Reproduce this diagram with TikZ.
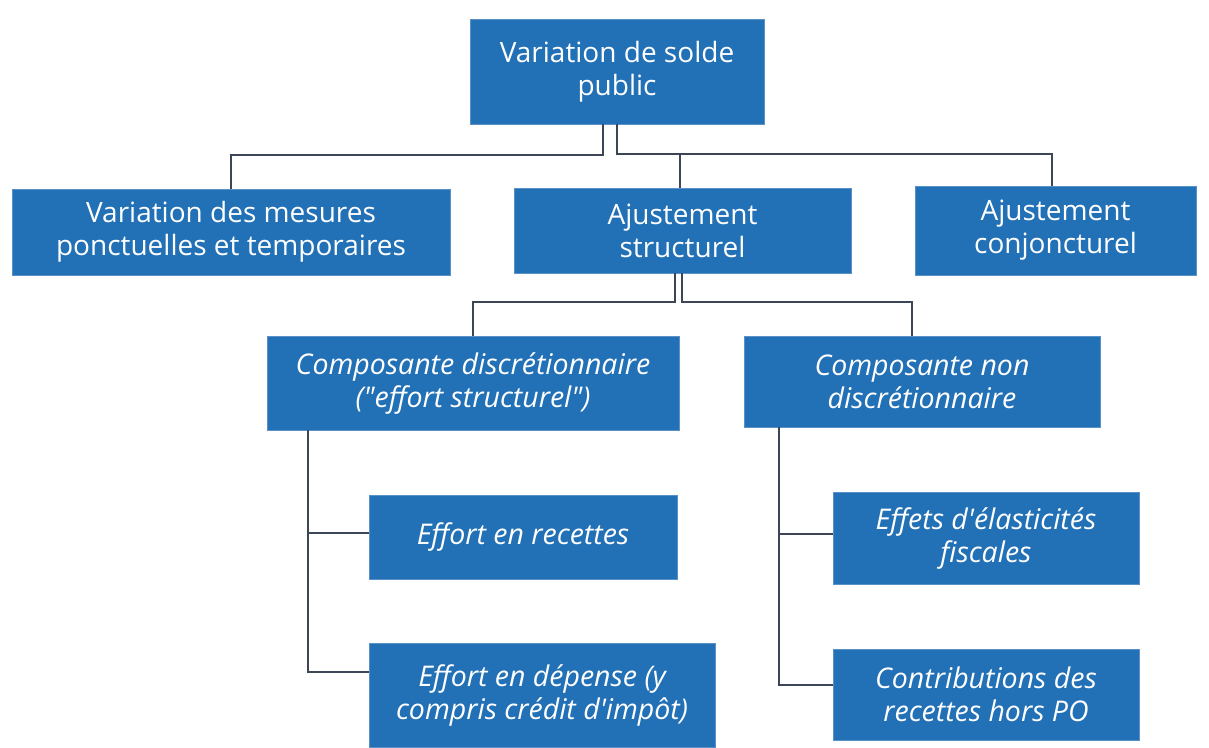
\documentclass[tikz,border=0pt]{standalone}
\usepackage{fontspec}
\setmainfont{Open Sans}[Ligatures=TeXOff]
\definecolor{boxblue}{HTML}{2270B5}
\definecolor{boxedge}{HTML}{5A92C8}
\definecolor{linecol}{HTML}{3D4656}
\tikzset{
  box/.style={rectangle, fill=boxblue, draw=boxedge, line width=0.8pt, text=white,
    align=center, inner sep=0pt, font=\fontsize{28}{33}\selectfont},
  ibox/.style={box, font=\fontsize{28.5}{33}\selectfont\itshape},
  conn/.style={draw=linecol, line width=2.5pt}
}
\begin{document}
\begin{tikzpicture}[x=1pt,y=-1pt]
\useasboundingbox (0,0) rectangle (1209,747);
\node[box, minimum width=294, minimum height=105] (top) at (617,71.5) {Variation de solde\\public};
\node[box, minimum width=438, minimum height=86] (b1) at (231,232) {Variation des mesures\\ponctuelles et temporaires};
\node[box, minimum width=337, minimum height=85] (b2) at (682.5,230.5) {Ajustement\\structurel};
\node[box, minimum width=281, minimum height=89] (b3) at (1055.5,230.5) {Ajustement\\conjoncturel};
\node[ibox, minimum width=412, minimum height=94] (b4) at (473,383) {Composante discrétionnaire\\("effort structurel")};
\node[ibox, minimum width=356, minimum height=91] (b5) at (922,381.5) {Composante non\\discrétionnaire};
\node[ibox, minimum width=308, minimum height=84] (b6) at (523,537) {Effort en recettes};
\node[ibox, minimum width=346, minimum height=104] (b7) at (542,695) {Effort en dépense (y\\compris crédit d'impôt)};
\node[ibox, minimum width=306, minimum height=92] (b8) at (986,538) {Effets d'élasticités\\fiscales};
\node[ibox, minimum width=306, minimum height=91] (b9) at (986,694.5) {Contributions des\\recettes hors PO};
% connectors from top box
\coordinate (t1) at (603,124);
\draw[conn] (t1) -- (603,155) -| (b1.north);
\draw[conn] (top.south) -- (617,154) -| ([xshift=-3.5pt]b3.north);
\coordinate (j2) at (680,154);
\draw[conn] (j2) -- (j2 |- b2.north);
% connectors from structural adjustment
\coordinate (s1) at (675,273);
\draw[conn] (s1) -- (675,302) -| (b4.north);
\coordinate (s2) at (682,273);
\draw[conn] (s2) -- (682,302) -| ([xshift=-10pt]b5.north);
% discretionary children
\coordinate (d0) at (308,430);
\draw[conn] (d0) |- ([yshift=23pt]b7.west);
\draw[conn] (308,533) -- ([yshift=4pt]b6.west);
% non-discretionary children
\coordinate (n0) at (779,427);
\draw[conn] (n0) |- ([yshift=9.5pt]b9.west);
\draw[conn] (779,534) -- ([yshift=4pt]b8.west);
\end{tikzpicture}
\end{document}
